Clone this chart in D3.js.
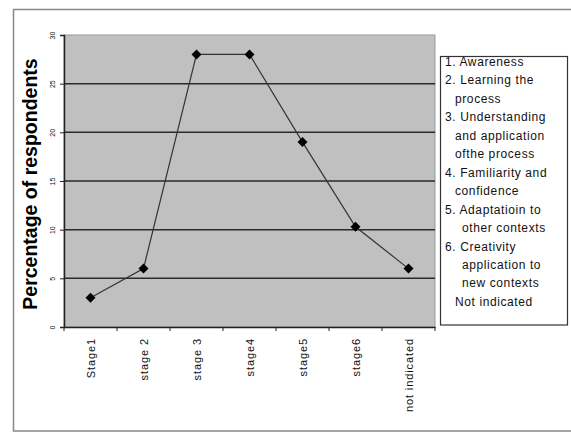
<!DOCTYPE html>
<html><head><meta charset="utf-8">
<script src="https://cdn.jsdelivr.net/npm/d3@7"></script>
<style>body{margin:0;background:#fff}svg{display:block;font-family:Arial,"Liberation Sans",sans-serif}</style>
</head><body><svg id="c" width="571" height="432"></svg>
<script>
const categories = ["Stage1","stage 2","stage 3","stage4","stage5","stage6","not indicated"];
const values = [3, 6, 28, 28, 19, 10.3, 6];
const yTicks = [0, 5, 10, 15, 20, 25, 30];
const legendLines = ["1. Awareness","2. Learning the","process","3. Understanding","and application","ofthe process","4. Familiarity and","confidence","5.  Adaptatioin to","other contexts","6.  Creativity","application to","new contexts","Not indicated"];
const legendIndent = [0,0,1,0,1,1,0,1,0,2,0,2,2,1];

const svg = d3.select("#c");
const L = 64, R = 435, T = 35, B = 327;

svg.append("rect").attr("x",13.5).attr("y",9.5).attr("width",620).attr("height",421.5)
  .attr("fill","none").attr("stroke","#888").attr("stroke-width",1.5);

const x = d3.scaleBand().domain(categories).range([L, R]).padding(0);
const y = d3.scaleLinear().domain([0, 30]).range([B, T]);

svg.append("rect").attr("x",L).attr("y",T).attr("width",R-L).attr("height",B-T)
  .attr("fill","#c0c0c0").attr("stroke","#999").attr("stroke-width",1);

svg.append("g").selectAll("line").data(yTicks.filter(d=>d>0 && d<30)).join("line")
  .attr("x1",L).attr("x2",R).attr("y1",d=>y(d)).attr("y2",d=>y(d))
  .attr("stroke","#2a2a2a").attr("stroke-width",1.5);

// y axis
const ya = svg.append("g").attr("transform",`translate(${L},0)`)
  .call(d3.axisLeft(y).tickValues(yTicks).tickSize(4).tickFormat(d3.format("d")));
ya.select(".domain").attr("stroke","#222").attr("stroke-width",1.5);
ya.selectAll(".tick line").attr("stroke","#222");
ya.selectAll(".tick text").attr("font-size",7).attr("fill","#111")
  .attr("x",-11).attr("dy",0).attr("text-anchor","middle")
  .attr("transform","rotate(-90,-11,0)").attr("dominant-baseline","middle");

// x axis
const xa = svg.append("g").attr("transform",`translate(0,${B})`)
  .call(d3.axisBottom(x).tickSize(0).tickFormat(""));
xa.select(".domain").attr("stroke","#222").attr("stroke-width",1.5);
const bounds = categories.map(c=>x(c)).concat([R]);
svg.append("g").selectAll("line").data(bounds).join("line")
  .attr("x1",d=>d).attr("x2",d=>d).attr("y1",B).attr("y2",B+4).attr("stroke","#222");
svg.append("g").selectAll("text").data(categories).join("text")
  .attr("transform",d=>`translate(${x(d)+x.bandwidth()/2+4},${B+11}) rotate(-90)`)
  .attr("text-anchor","end").attr("font-size",11).attr("letter-spacing",0.9).attr("fill","#111")
  .text(d=>d);

// line
const line = d3.line().x((d,i)=>x(categories[i])+x.bandwidth()/2).y(d=>y(d));
svg.append("path").datum(values).attr("d",line).attr("fill","none").attr("stroke","#333").attr("stroke-width",1.2);
svg.append("g").selectAll("path").data(values).join("path")
  .attr("transform",(d,i)=>`translate(${x(categories[i])+x.bandwidth()/2},${y(d)}) rotate(45)`)
  .attr("d",d3.symbol(d3.symbolSquare, 50)())
  .attr("fill","#000");

// y label
svg.append("text").attr("transform","translate(37,184) rotate(-90)").attr("text-anchor","middle")
  .attr("font-size",19.5).attr("font-weight","bold").attr("fill","#000").text("Percentage of respondents");

// legend
svg.append("rect").attr("x",440.5).attr("y",56.5).attr("width",127).attr("height",268.5)
  .attr("fill","#fff").attr("stroke","#333").attr("stroke-width",1.2);
svg.append("g").selectAll("text").data(legendLines).join("text")
  .attr("x",(d,i)=>445+[0,10,17][legendIndent[i]])
  .attr("y",(d,i)=>61.7+i*18.46).attr("dy","0.35em")
  .attr("font-size",12).attr("letter-spacing",0.6).attr("fill","#111").text(d=>d);
</script></body></html>
